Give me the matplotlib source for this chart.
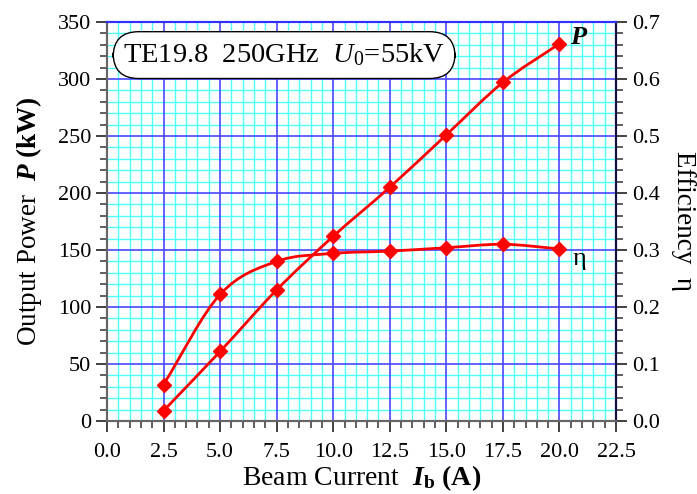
import numpy as np
import matplotlib.pyplot as plt
from matplotlib.path import Path
from matplotlib.patches import PathPatch
from matplotlib.ticker import MultipleLocator, FormatStrFormatter

plt.rcParams['font.family'] = ['Liberation Serif', 'DejaVu Serif']
plt.rcParams['mathtext.fontset'] = 'custom'
plt.rcParams['mathtext.rm'] = 'Liberation Serif'
plt.rcParams['mathtext.it'] = 'Liberation Serif:italic'
plt.rcParams['mathtext.bf'] = 'Liberation Serif:bold'
plt.rcParams['mathtext.bfit'] = 'Liberation Serif:bold:italic'

current = [2.5, 5.0, 7.5, 10.0, 12.5, 15.0, 17.5, 20.0]
power = [9, 61, 115, 162, 205, 251, 297, 331]
eff = [0.064, 0.222, 0.280, 0.294, 0.298, 0.304, 0.310, 0.302]


def smooth_path(x, y):
    # catmull-rom through the points, as cubic bezier segments
    x = np.asarray(x, float)
    y = np.asarray(y, float)
    px = np.concatenate([[2 * x[0] - x[1]], x, [2 * x[-1] - x[-2]]])
    py = np.concatenate([[2 * y[0] - y[1]], y, [2 * y[-1] - y[-2]]])
    verts = [(x[0], y[0])]
    codes = [Path.MOVETO]
    for i in range(1, len(px) - 2):
        c1 = (px[i] + (px[i + 1] - px[i - 1]) / 6, py[i] + (py[i + 1] - py[i - 1]) / 6)
        c2 = (px[i + 1] - (px[i + 2] - px[i]) / 6, py[i + 1] - (py[i + 2] - py[i]) / 6)
        verts += [c1, c2, (px[i + 1], py[i + 1])]
        codes += [Path.CURVE4] * 3
    return Path(verts, codes)


fig = plt.figure(figsize=(6.97, 4.94), dpi=100)
ax = fig.add_axes([0.1535, 0.1478, 0.7303, 0.8077])
ax2 = ax.twinx()

ax.set_xlim(0, 22.5)
ax.set_ylim(0, 350)
ax2.set_ylim(0, 0.7)

ax.xaxis.set_major_locator(MultipleLocator(2.5))
ax.xaxis.set_minor_locator(MultipleLocator(0.5))
ax.xaxis.set_major_formatter(FormatStrFormatter('%.1f'))
ax.yaxis.set_major_locator(MultipleLocator(50))
ax.yaxis.set_minor_locator(MultipleLocator(10))
ax2.yaxis.set_major_locator(MultipleLocator(0.1))
ax2.yaxis.set_minor_locator(MultipleLocator(0.02))
ax2.yaxis.set_major_formatter(FormatStrFormatter('%.1f'))

# cyan fine grid underneath, blue main grid on the twin so it sits on top
ax.grid(which='minor', color='#4dffff', lw=1.0)
ax.set_axisbelow(True)
ax2.grid(which='major', axis='y', color='#4848ff', lw=1.2)
ax2.set_axisbelow(True)
ax2.vlines(ax.xaxis.get_majorticklocs(), 0, 1, transform=ax2.get_xaxis_transform(),
           color='#4848ff', lw=1.2, zorder=0.5)

for a in (ax, ax2):
    a.tick_params(which='both', direction='out', labelsize=16, colors='#333333')
    a.tick_params(which='major', length=8, width=1.3)
    a.tick_params(which='minor', length=5, width=1.1)
ax.tick_params(labelcolor='black')
ax2.tick_params(labelcolor='black')
ax.tick_params(axis='x', pad=8)

for a in (ax, ax2):
    a.spines['left'].set_color('#666666')
    a.spines['bottom'].set_color('#666666')
    a.spines['top'].set_color('#3030ff')
    a.spines['right'].set_color('#101040')
    for s in a.spines.values():
        s.set_linewidth(1.5)

ax2.add_patch(PathPatch(smooth_path(current, power), fill=False, ec='red', lw=2,
                        zorder=3, transform=ax.transData))
ax2.plot(current, power, ls='none', marker='D', ms=7, color='red', zorder=4,
         transform=ax.transData)
ax2.add_patch(PathPatch(smooth_path(current, eff), fill=False, ec='red', lw=2, zorder=3))
ax2.plot(current, eff, ls='none', marker='D', ms=7, color='red', zorder=4)

ax2.text(20.45, 336, r'$\mathbfit{P}$', fontsize=19, va='center', ha='left',
         transform=ax.transData)
ax2.text(20.6, 142, 'η', fontsize=19, va='center', ha='left', transform=ax.transData)

ax2.text(0.348, 0.917, r'TE19.8  250GHz  $U_0$=55kV', transform=ax.transAxes,
         fontsize=20.5, ha='center', va='center', zorder=5,
         bbox=dict(boxstyle='round,pad=0.35,rounding_size=0.9', fc='white', ec='black', lw=1))

ax.set_xlabel(r'Beam Current  $\mathbfit{I}_{\mathbf{b}}$ $\mathbf{(A)}$', fontsize=20, labelpad=1)
ax.set_ylabel(r'Output Power  $\mathbfit{P}$ $\mathbf{(kW)}$', fontsize=19.5, labelpad=10)
ax2.set_ylabel('Efficiency  η', fontsize=19.5, rotation=270, labelpad=26)

fig.savefig('out.png', dpi=100)
